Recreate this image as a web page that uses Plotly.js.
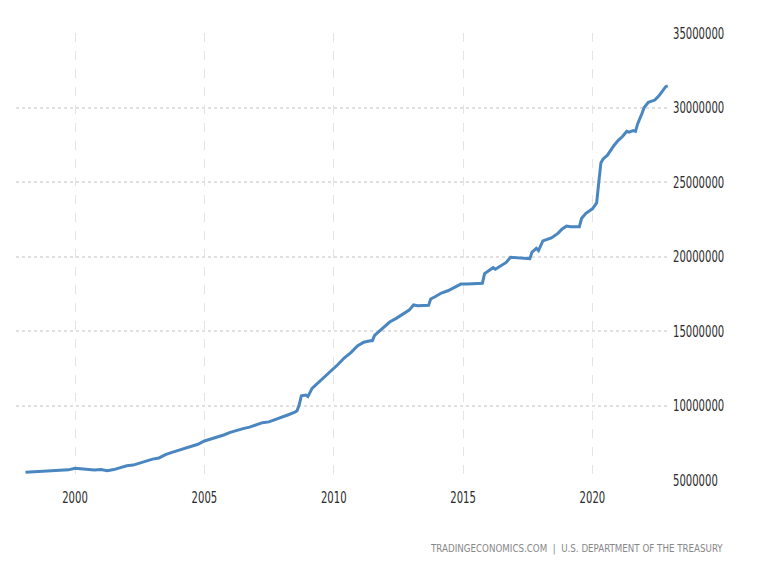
<!DOCTYPE html>
<html>
<head>
<meta charset="utf-8">
<script src="https://cdn.plot.ly/plotly-3.0.1.min.js"></script>
<style>
html,body{margin:0;padding:0;background:#fff;}
#chart{width:768px;height:576px;}
#chart text{font-stretch:condensed !important;}
#chart g.ytick{transform-box:fill-box;transform-origin:0% 50%;transform:scaleX(0.70);}
#chart g.xtick{transform-box:fill-box;transform-origin:50% 50%;transform:scaleX(0.70);}
#chart g.annotation{transform-box:fill-box;transform-origin:100% 50%;transform:scaleX(0.88);}
</style>
</head>
<body>
<div id="chart"></div>
<script>
// Month of each observation
const dates = [
  '1998-02','1998-06','1998-10','1999-02','1999-06','1999-10',
  '2000-01','2000-04','2000-07','2000-10','2001-01','2001-04','2001-07','2001-10',
  '2002-01','2002-04','2002-07','2002-10','2003-01','2003-04','2003-07','2003-10',
  '2004-01','2004-04','2004-07','2004-10','2005-01','2005-04','2005-07','2005-10',
  '2006-01','2006-04','2006-07','2006-10','2007-01','2007-04','2007-07','2007-10',
  '2008-01','2008-04','2008-07','2008-08','2008-09','2008-10','2008-12',
  '2009-01','2009-03','2009-06','2009-09','2009-12',
  '2010-03','2010-06','2010-09','2010-12',
  '2011-03','2011-06','2011-07','2011-08','2011-12',
  '2012-03','2012-06','2012-09','2012-12',
  '2013-02','2013-04','2013-09','2013-10','2013-12',
  '2014-03','2014-06','2014-09','2014-12',
  '2015-03','2015-06','2015-09','2015-10','2015-11',
  '2016-01','2016-03','2016-04','2016-07','2016-09','2016-11',
  '2017-02','2017-05','2017-08','2017-09','2017-11','2017-12',
  '2018-02','2018-06','2018-09','2018-11',
  '2019-01','2019-03','2019-07','2019-08','2019-10',
  '2020-01','2020-03','2020-04','2020-05','2020-06','2020-08','2020-11',
  '2021-01','2021-03','2021-05','2021-06','2021-08','2021-09','2021-10','2021-12',
  '2022-01','2022-03','2022-06','2022-08','2022-10','2022-11','2022-12'
];
// Government debt, USD thousands
const debt = [
  5520000,5550000,5560000,5620000,5640000,5680000,
  5780000,5750000,5680000,5670000,5700000,5620000,5700000,5820000,
  5950000,6000000,6150000,6280000,6400000,6480000,6700000,6850000,
  7000000,7120000,7280000,7400000,7620000,7750000,7850000,8020000,
  8200000,8350000,8450000,8550000,8680000,8850000,8900000,9050000,
  9200000,9380000,9550000,9650000,10050000,10650000,10700000,
  10600000,11150000,11550000,11900000,12300000,
  12750000,13200000,13550000,14000000,
  14250000,14350000,14350000,14700000,15200000,
  15600000,15850000,16100000,16400000,
  16750000,16700000,16720000,17150000,17300000,
  17550000,17700000,17950000,18150000,
  18150000,18150000,18150000,18200000,18850000,
  19050000,19250000,19150000,19450000,19600000,19950000,
  19900000,19850000,19850000,20300000,20550000,20400000,
  21050000,21250000,21550000,21850000,
  22050000,22000000,22000000,22550000,22900000,
  23200000,23600000,25000000,26300000,26550000,26800000,27450000,
  27800000,28050000,28400000,28350000,28450000,28400000,28900000,29600000,
  30000000,30350000,30500000,30800000,31200000,31400000,31450000
];
const yTicks = [5000000,10000000,15000000,20000000,25000000,30000000,35000000];
const xTicks = ['2000-01-01','2005-01-01','2010-01-01','2015-01-01','2020-01-01'];
const xTickText = ['2000','2005','2010','2015','2020'];
const sourceText = 'TRADINGECONOMICS.COM  |  U.S. DEPARTMENT OF THE TREASURY';

const FONT = '"DejaVu Sans Condensed", "DejaVu Sans", sans-serif';

const trace = {
  x: dates, y: debt, type: 'scatter', mode: 'lines',
  line: {color: '#4a86bf', width: 3, shape: 'linear'},
  hoverinfo: 'x+y'
};

const layout = {
  width: 768, height: 576,
  margin: {l: 16, r: 98, t: 33, b: 96},
  paper_bgcolor: '#fff', plot_bgcolor: '#fff',
  showlegend: false,
  font: {family: FONT, color: '#333', size: 16},
  xaxis: {
    type: 'date',
    range: ['1997-09-20', '2023-01-01'],
    tickvals: xTicks, ticktext: xTickText,
    showgrid: true, gridcolor: '#e4e4e4', griddash: 'dash', gridwidth: 1,
    zeroline: false, showline: false, ticks: '', ticklabelstandoff: 6,
    tickfont: {family: FONT, size: 16, color: '#2b2b2b'}
  },
  yaxis: {
    side: 'right',
    range: [5000000, 35000000],
    tickvals: yTicks, ticktext: yTicks.map(String),
    showgrid: true, gridcolor: '#e0e0e0', griddash: 'dot', gridwidth: 2,
    zeroline: false, showline: false, ticks: '', ticklabelstandoff: 2,
    tickfont: {family: FONT, size: 16, color: '#2b2b2b'}
  },
  annotations: [{
    xref: 'paper', yref: 'paper', x: 1.084, y: -0.154,
    xanchor: 'right', yanchor: 'middle', showarrow: false,
    text: sourceText,
    font: {family: FONT, size: 11, color: '#888'}
  }]
};

Plotly.newPlot('chart', [trace], layout, {displayModeBar: false, staticPlot: true});
</script>
</body>
</html>
